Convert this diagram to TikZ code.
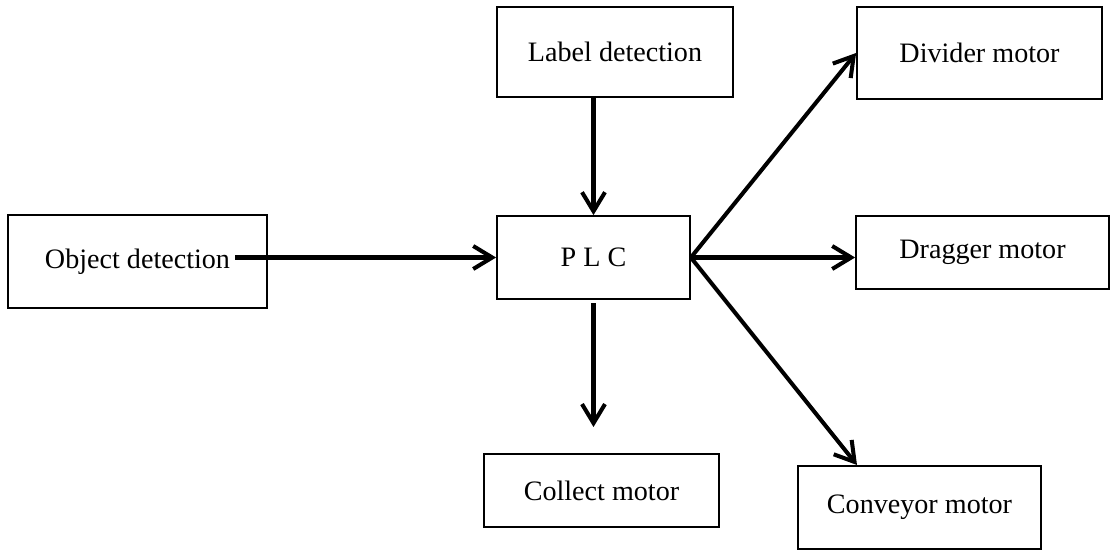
\documentclass[tikz,border=0pt]{standalone}
\usepackage{fontspec}
\setmainfont{Liberation Serif}
\usetikzlibrary{arrows.meta}

\tikzset{
	block/.style 2 args={draw, line width=1pt, inner sep=0pt, minimum width=#1, minimum height=#2,
		font=\fontsize{16}{19}\selectfont},
	flow/.style={line width=2.3pt, -{Straight Barb[length=0.38cm, width=0.46cm]}}
}

\begin{document}
\begin{tikzpicture}
	\useasboundingbox (0,0) rectangle (22.24,-11.12);

	\node[block={4.72cm}{1.80cm}] (label) at (12.30,-1.04) {Label detection};
	\node[block={4.90cm}{1.84cm}] (divider) at (19.59,-1.06) {Divider motor};
	\node[block={5.18cm}{1.86cm}] (object) at (2.75,-5.23) {Object detection};
	\node[block={3.86cm}{1.66cm}] (plc) at (11.87,-5.15) {P L C};
	\node[block={5.06cm}{1.46cm}] (dragger) at (19.65,-5.05) {Dragger motor};
	\node[block={4.70cm}{1.46cm}] (collect) at (12.03,-9.81) {Collect motor};
	\node[block={4.86cm}{1.66cm}] (conveyor) at (18.39,-10.15) {Conveyor motor};

	\coordinate (objout) at (4.70,-5.15);
	\coordinate (collectin) at (11.87,-8.54);
	\coordinate (convin) at (17.14,-9.30);

	\draw[flow] (objout) -- (plc.west);
	\draw[flow] (label.south -| plc.north) -- (plc.north);
	\draw[flow] ([yshift=-2pt]plc.south) -- (collectin);
	\draw[flow] (plc.east) -- (divider.west);
	\draw[flow] (plc.east) -- (plc.east -| dragger.west);
	\draw[flow] (plc.east) -- (convin);
\end{tikzpicture}
\end{document}
